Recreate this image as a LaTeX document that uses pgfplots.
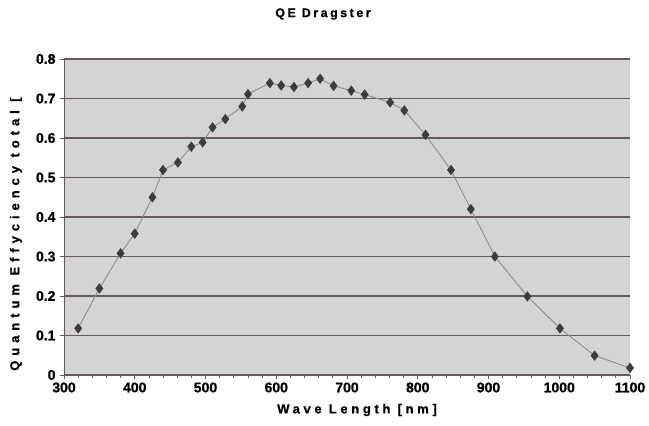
\documentclass[border=0pt]{standalone}
\usepackage{pgfplots}
\pgfplotsset{compat=1.18}
\usepackage{fontspec}
\setmainfont{Liberation Sans}[BoldFeatures={FakeBold=1}]
\newfontfamily\lsfont{Liberation Sans}[LetterSpace=20, BoldFeatures={FakeBold=1}]
\newfontfamily\xlfont{Liberation Sans}[LetterSpace=28, BoldFeatures={FakeBold=1}]
\newfontfamily\ylfont{Liberation Sans}[LetterSpace=38, BoldFeatures={FakeBold=1}]
\definecolor{plotbg}{RGB}{212,212,214}
\definecolor{gridc}{RGB}{100,90,90}
\definecolor{linec}{RGB}{140,140,140}
\definecolor{markc}{RGB}{60,60,60}

\begin{document}
\begin{tikzpicture}
\begin{axis}[
  scale only axis, width=566bp, height=316bp,
  xmin=300, xmax=1100, ymin=0, ymax=0.8,
  axis x line=bottom, axis y line=left,
  axis line style={-, color=gridc, line width=1pt},
  axis background/.style={fill=plotbg},
  xtick={300,400,...,1100}, minor x tick num=4,
  ytick={0,0.1,...,0.8},
  tick align=outside, major tick length=4bp, minor tick length=3bp,
  tick style={color=gridc, line width=0.8pt},
  ymajorgrids, major grid style={color=gridc, line width=1.2pt},
  /pgf/number format/assume math mode=true,
  /pgf/number format/set thousands separator={},
  yticklabel style={/pgf/number format/fixed, font=\bfseries\fontsize{14bp}{16bp}\selectfont, xshift=-1bp},
  xticklabel style={font=\bfseries\fontsize{14bp}{16bp}\selectfont},
  title={QE Dragster},
  title style={font=\lsfont\bfseries\fontsize{12.5bp}{14bp}\selectfont, anchor=center, at={(axis description cs:0.5,1)}, yshift=39bp, xshift=-24bp},
  xlabel={Wave Length [nm]},
  xlabel style={font=\xlfont\bfseries\fontsize{13bp}{15bp}\selectfont, anchor=center, at={(axis description cs:0.5,0)}, yshift=-35bp, xshift=10bp},
  ylabel={Quantum Effyciency total [},
  ylabel style={font=\ylfont\bfseries\fontsize{13bp}{15bp}\selectfont, anchor=center, at={(axis description cs:-0.085,0.446)}},
  clip=false,
]
\addplot[color=linec, line width=0.9pt, mark=diamond*, mark size=4.5bp,
  mark options={fill=markc, draw=markc}] coordinates {
  (320,0.118) (350,0.219) (380,0.308) (400,0.358) (425,0.45)
  (440,0.519) (461,0.538) (480,0.578) (496,0.589) (510,0.627)
  (528,0.648) (552,0.68) (560,0.711) (591,0.739) (607,0.733)
  (625,0.729) (645,0.739) (662,0.75) (681,0.732) (706,0.72)
  (725,0.71) (761,0.69) (781,0.67) (811,0.608) (847,0.519)
  (875,0.42) (909,0.30) (955,0.199) (1001,0.118) (1050,0.049)
  (1100,0.018)
};
\end{axis}
\pgfresetboundingbox
\useasboundingbox (-64bp,-51bp) rectangle (585bp,375bp);
\end{tikzpicture}
\end{document}
